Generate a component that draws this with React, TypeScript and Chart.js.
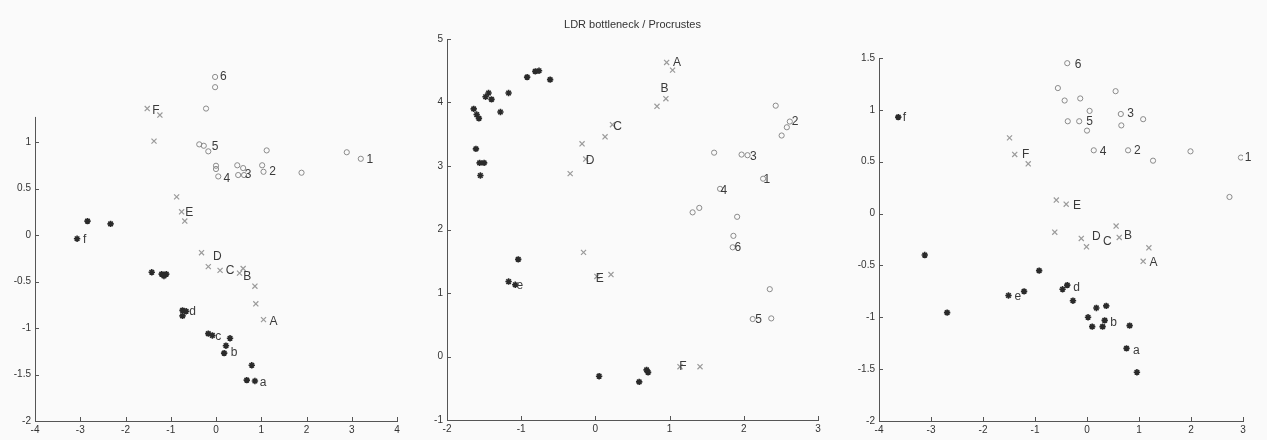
import React, { useEffect, useRef } from "react";
import { Chart, registerables } from "chart.js";

Chart.register(...registerables);

const FONT = "'Liberation Sans', Arial, sans-serif";

// ---------- Panel 1 ----------
const p1Dark = [
  [-2.84, 0.15], [-2.33, 0.12], [-3.07, -0.04], [-1.42, -0.4], [-1.2, -0.42], [-1.1, -0.42],
  [-1.15, -0.44], [-0.74, -0.81], [-0.74, -0.87], [-0.66, -0.82], [-0.17, -1.06], [-0.08, -1.08],
  [0.31, -1.11], [0.22, -1.19], [0.18, -1.27], [0.79, -1.4], [0.68, -1.56], [0.86, -1.57],
];
const p1Gray = [
  [-1.52, 1.36], [-1.24, 1.29], [-1.37, 1.01], [-0.87, 0.41], [-0.76, 0.25], [-0.69, 0.15],
  [-0.32, -0.19], [-0.17, -0.34], [0.09, -0.38], [0.52, -0.41], [0.6, -0.36], [0.86, -0.55],
  [0.88, -0.74], [1.05, -0.91],
];
const p1Circ = [
  [-0.02, 1.7], [-0.02, 1.59], [-0.22, 1.36], [-0.37, 0.975], [-0.27, 0.96], [-0.17, 0.9],
  [1.12, 0.91], [2.89, 0.89], [3.2, 0.82], [0.0, 0.745], [0.0, 0.71], [0.05, 0.63],
  [0.47, 0.75], [0.6, 0.72], [0.49, 0.645], [0.62, 0.645], [1.02, 0.75], [1.05, 0.68], [1.89, 0.67],
];
const p1Labels: [number, number, string][] = [
  [0.16, 1.7, "6"], [-1.33, 1.34, "F"], [-0.02, 0.95, "5"], [3.4, 0.81, "1"], [0.24, 0.61, "4"],
  [0.71, 0.645, "3"], [1.25, 0.68, "2"], [-0.59, 0.24, "E"], [-2.9, -0.05, "f"], [0.03, -0.23, "D"],
  [0.31, -0.38, "C"], [0.69, -0.45, "B"], [1.27, -0.93, "A"], [-0.52, -0.82, "d"], [0.05, -1.09, "c"],
  [0.4, -1.27, "b"], [1.04, -1.59, "a"],
];
const p1XTicks = [-4, -3, -2, -1, 0, 1, 2, 3, 4];
const p1YTicks = [-2, -1.5, -1, -0.5, 0, 0.5, 1];

// ---------- Panel 2 ----------
const p2Dark = [
  [-0.92, 4.4], [-0.81, 4.49], [-0.76, 4.5], [-0.61, 4.36], [-1.17, 4.15], [-1.44, 4.15],
  [-1.48, 4.09], [-1.4, 4.05], [-1.28, 3.85], [-1.64, 3.9], [-1.6, 3.81], [-1.57, 3.75],
  [-1.61, 3.27], [-1.56, 3.05], [-1.5, 3.05], [-1.55, 2.85], [-1.04, 1.53], [-1.17, 1.18],
  [-1.08, 1.13], [0.05, -0.31], [0.59, -0.4], [0.69, -0.21], [0.71, -0.25],
];
const p2Gray = [
  [0.96, 4.63], [1.04, 4.51], [0.95, 4.06], [0.83, 3.94], [0.23, 3.65], [0.13, 3.46],
  [-0.18, 3.35], [-0.13, 3.11], [-0.34, 2.88], [-0.16, 1.64], [0.02, 1.26], [0.21, 1.29],
  [1.14, -0.16], [1.41, -0.16],
];
const p2Circ = [
  [2.43, 3.95], [2.62, 3.7], [2.58, 3.61], [2.51, 3.48], [1.6, 3.21], [1.97, 3.18], [2.05, 3.17],
  [2.26, 2.8], [1.68, 2.64], [1.31, 2.27], [1.4, 2.34], [1.91, 2.2], [1.86, 1.9], [1.85, 1.72],
  [2.35, 1.06], [2.12, 0.59], [2.37, 0.6],
];
const p2Labels: [number, number, string][] = [
  [1.1, 4.63, "A"], [0.93, 4.21, "B"], [0.3, 3.62, "C"], [-0.07, 3.09, "D"], [2.69, 3.7, "2"],
  [2.13, 3.15, "3"], [2.31, 2.78, "1"], [1.73, 2.61, "4"], [1.92, 1.72, "6"], [2.2, 0.58, "5"],
  [0.06, 1.23, "E"], [-1.02, 1.11, "e"], [1.18, -0.16, "F"],
];
const p2XTicks = [-2, -1, 0, 1, 2, 3];
const p2YTicks = [-1, 0, 1, 2, 3, 4, 5];

// ---------- Panel 3 ----------
const p3Dark = [
  [-3.63, 0.93], [-3.12, -0.4], [-0.92, -0.55], [-2.69, -0.955], [-1.51, -0.79], [-1.21, -0.75],
  [-0.47, -0.73], [-0.38, -0.69], [-0.27, -0.84], [0.18, -0.91], [0.37, -0.89], [0.02, -1.0],
  [0.1, -1.09], [0.34, -1.03], [0.3, -1.09], [0.82, -1.08], [0.76, -1.3], [0.96, -1.53],
];
const p3Gray = [
  [-1.49, 0.73], [-1.39, 0.57], [-1.13, 0.48], [-0.59, 0.13], [-0.4, 0.09], [-0.62, -0.18],
  [-0.11, -0.24], [-0.01, -0.32], [0.56, -0.12], [0.62, -0.23], [1.19, -0.33], [1.08, -0.46],
];
const p3Circ = [
  [-0.38, 1.45], [-0.56, 1.21], [-0.43, 1.09], [-0.13, 1.11], [0.55, 1.18], [0.05, 0.99],
  [0.65, 0.96], [1.08, 0.91], [0.66, 0.85], [-0.37, 0.89], [-0.15, 0.89], [0.0, 0.8],
  [0.13, 0.61], [0.79, 0.61], [1.27, 0.51], [1.99, 0.6], [2.96, 0.54], [2.74, 0.16],
];
const p3Labels: [number, number, string][] = [
  [-3.51, 0.92, "f"], [-0.17, 1.44, "6"], [0.84, 0.96, "3"], [0.05, 0.89, "5"], [0.31, 0.6, "4"],
  [0.97, 0.61, "2"], [3.1, 0.54, "1"], [-1.18, 0.57, "F"], [-0.19, 0.08, "E"], [0.18, -0.22, "D"],
  [0.39, -0.27, "C"], [0.79, -0.21, "B"], [1.28, -0.47, "A"], [-1.33, -0.8, "e"], [-0.2, -0.71, "d"],
  [0.51, -1.05, "b"], [0.95, -1.32, "a"],
];
const p3XTicks = [-4, -3, -2, -1, 0, 1, 2, 3];
const p3YTicks = [-2, -1.5, -1, -0.5, 0, 0.5, 1, 1.5];

const TITLE = "LDR bottleneck / Procrustes";

type PanelCfg = {
  left: number; width: number;
  areaLeft: number; areaRight: number; areaTop: number; areaBottom: number;
  xMin: number; xMax: number; yMin: number; yMax: number; yAxisTop: number;
  xTicks: number[]; yTicks: number[];
  dark: number[][]; gray: number[][]; circ: number[][];
  labels: [number, number, string][];
  title?: string;
};

const H = 440;

function Panel({ cfg }: { cfg: PanelCfg }) {
  const ref = useRef<HTMLCanvasElement | null>(null);
  useEffect(() => {
    if (!ref.current) return;
    const toPts = (a: number[][]) => a.map(([x, y]) => ({ x, y }));
    const decor = {
      id: "decor",
      beforeDatasetsDraw(chart: any) {
        const { ctx, chartArea: a } = chart;
        const ys = chart.scales.y;
        ctx.save();
        ctx.strokeStyle = "#555";
        ctx.lineWidth = 1;
        ctx.beginPath();
        const lx = Math.round(a.left) + 0.5;
        ctx.moveTo(lx, a.bottom);
        ctx.lineTo(lx, ys.getPixelForValue(cfg.yAxisTop));
        ctx.stroke();
        ctx.restore();
      },
      afterDraw(chart: any) {
        const { ctx, chartArea: a } = chart;
        const xs = chart.scales.x;
        const ys = chart.scales.y;
        ctx.save();
        ctx.strokeStyle = "#555";
        ctx.lineWidth = 1;
        ctx.beginPath();
        xs.ticks.forEach((t: any) => {
          const px = Math.round(xs.getPixelForValue(t.value)) + 0.5;
          ctx.moveTo(px, a.bottom);
          ctx.lineTo(px, a.bottom - 4);
        });
        ys.ticks.forEach((t: any) => {
          const py = Math.round(ys.getPixelForValue(t.value)) + 0.5;
          ctx.moveTo(a.left, py);
          ctx.lineTo(a.left + 4, py);
        });
        ctx.stroke();
        ctx.fillStyle = "#3a3a3a";
        ctx.font = `12px ${FONT}`;
        ctx.textAlign = "center";
        ctx.textBaseline = "middle";
        cfg.labels.forEach(([x, y, t]) => {
          ctx.fillText(t, xs.getPixelForValue(x), ys.getPixelForValue(y));
        });
        if (cfg.title) {
          ctx.fillStyle = "#333";
          ctx.font = `11px ${FONT}`;
          ctx.fillText(cfg.title, (a.left + a.right) / 2, 25);
        }
        ctx.restore();
      },
    };
    const chart = new Chart(ref.current, {
      type: "scatter",
      data: {
        datasets: [
          {
            data: toPts(cfg.circ), pointStyle: "circle", pointRadius: 2.6,
            pointBorderColor: "#8a8a8a", pointBackgroundColor: "rgba(0,0,0,0)",
            pointBorderWidth: 1,
          } as any,
          {
            data: toPts(cfg.gray), pointStyle: "crossRot", pointRadius: 3.6,
            pointBorderColor: "#9a9a9a", pointBackgroundColor: "#9a9a9a",
            pointBorderWidth: 1.2,
          } as any,
          {
            data: toPts(cfg.dark), pointStyle: "star", pointRadius: 3.2,
            pointBorderColor: "#2a2a2a", pointBackgroundColor: "#2a2a2a",
            pointBorderWidth: 1.6,
          } as any,
        ],
      },
      options: {
        responsive: false,
        animation: false,
        events: [],
        layout: { padding: { left: 0, right: cfg.width - cfg.areaRight, top: cfg.areaTop, bottom: 0 } },
        plugins: { legend: { display: false }, tooltip: { enabled: false } },
        scales: {
          x: {
            type: "linear", min: cfg.xMin, max: cfg.xMax,
            grid: { drawOnChartArea: false, drawTicks: false },
            border: { color: "#555", width: 1 },
            afterBuildTicks: (s: any) => { s.ticks = cfg.xTicks.map((v) => ({ value: v })); },
            afterFit: (s: any) => { s.height = H - cfg.areaBottom; },
            ticks: { padding: 3, color: "#333", font: { family: FONT, size: 10 }, callback: (v: any) => String(v), maxRotation: 0, autoSkip: false },
          },
          y: {
            type: "linear", min: cfg.yMin, max: cfg.yMax,
            grid: { drawOnChartArea: false, drawTicks: false },
            border: { display: false },
            afterBuildTicks: (s: any) => { s.ticks = cfg.yTicks.map((v) => ({ value: v })); },
            afterFit: (s: any) => { s.width = cfg.areaLeft; },
            ticks: { padding: 4, color: "#333", font: { family: FONT, size: 10 }, callback: (v: any) => String(v), autoSkip: false },
          },
        },
      } as any,
      plugins: [decor],
    });
    return () => chart.destroy();
  }, [cfg]);
  return (
    <canvas
      ref={ref}
      width={cfg.width}
      height={H}
      style={{ position: "absolute", left: cfg.left, top: 0, width: cfg.width, height: H, display: "block" }}
    />
  );
}

const panels: PanelCfg[] = [
  {
    left: 0, width: 420, areaLeft: 35, areaRight: 397, areaTop: 63, areaBottom: 421,
    xMin: -4, xMax: 4, yMin: -2, yMax: 1.85, yAxisTop: 1.27, xTicks: p1XTicks, yTicks: p1YTicks,
    dark: p1Dark, gray: p1Gray, circ: p1Circ, labels: p1Labels,
  },
  {
    left: 420, width: 420, areaLeft: 27, areaRight: 398, areaTop: 39, areaBottom: 420,
    xMin: -2, xMax: 3, yMin: -1, yMax: 5, yAxisTop: 5, xTicks: p2XTicks, yTicks: p2YTicks,
    dark: p2Dark, gray: p2Gray, circ: p2Circ, labels: p2Labels, title: TITLE,
  },
  {
    left: 840, width: 427, areaLeft: 39, areaRight: 403, areaTop: 58, areaBottom: 421,
    xMin: -4, xMax: 3, yMin: -2, yMax: 1.5, yAxisTop: 1.5, xTicks: p3XTicks, yTicks: p3YTicks,
    dark: p3Dark, gray: p3Gray, circ: p3Circ, labels: p3Labels,
  },
];

export default function App() {
  return (
    <div style={{ position: "fixed", left: 0, top: 0, width: 1267, height: 440, background: "#fafafa", overflow: "hidden" }}>
      {panels.map((p, i) => (
        <Panel key={i} cfg={p} />
      ))}
    </div>
  );
}
